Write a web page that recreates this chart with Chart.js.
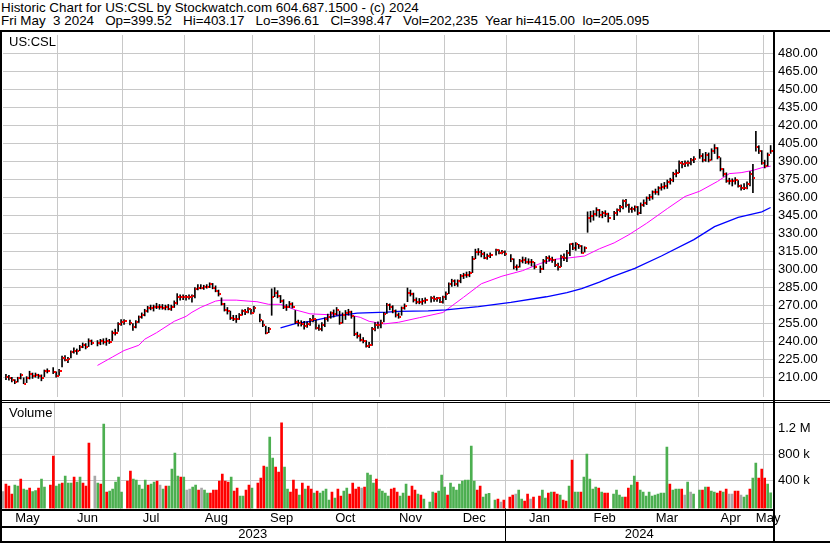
<!DOCTYPE html>
<html>
<head>
<meta charset="utf-8">
<script src="https://cdn.jsdelivr.net/npm/chart.js@4.4.1/dist/chart.umd.min.js"></script>
<style>
  html, body { margin: 0; padding: 0; background: #fff; }
  #wrap { position: relative; width: 830px; height: 543px; overflow: hidden; font-family: Arial, "Liberation Sans", sans-serif; color: #000; }
  .hdr { position: absolute; left: 1px; font-size: 13.4px; line-height: 13px; white-space: pre; }
  #h1 { top: 1px; }
  #h2 { top: 14px; }
  .tag { position: absolute; left: 9px; font-size: 13px; line-height: 13px; }
  .ln { position: absolute; background: #000; }
  canvas { position: absolute; left: 0; }
</style>
</head>
<body>
<div id="wrap">
  <div class="hdr" id="h1">Historic Chart for US:CSL by Stockwatch.com 604.687.1500 - (c) 2024</div>
  <div class="hdr" id="h2">Fri May  3 2024   Op=399.52   Hi=403.17   Lo=396.61   Cl=398.47   Vol=202,235  Year hi=415.00  lo=205.095</div>
  <canvas id="price" width="830" height="368" style="top:32px"></canvas>
  <canvas id="vol" width="830" height="140" style="top:403px"></canvas>
  <div class="tag" style="top:35px">US:CSL</div>
  <div class="tag" style="top:406px">Volume</div>
  <div class="ln" style="left:0;top:30px;width:830px;height:2px"></div>
  <div class="ln" style="left:0;top:30px;width:2px;height:513px"></div>
  <div class="ln" style="left:773px;top:30px;width:2px;height:513px"></div>
  <div class="ln" style="left:0;top:400px;width:830px;height:1px"></div>
  <div class="ln" style="left:0;top:402px;width:830px;height:1px"></div>
  <div class="ln" style="left:0;top:509px;width:775px;height:2px"></div>
  <div class="ln" style="left:0;top:526px;width:775px;height:2px"></div>
  <div class="ln" style="left:0;top:541px;width:830px;height:2px"></div>
</div>
<script>
// one slot per weekday, holidays are null
const firstDay = '2023-05-08';
const lastDay = '2024-05-03';

const monthLabels = ['May', 'Jun', 'Jul', 'Aug', 'Sep', 'Oct', 'Nov', 'Dec', 'Jan', 'Feb', 'Mar', 'Apr', 'May'];
const yearLabels = ['2023', '2024'];
const priceTicks = [210, 225, 240, 255, 270, 285, 300, 315, 330, 345, 360, 375, 390, 405, 420, 435, 450, 465, 480];
const volumeTicks = [400000, 800000, 1200000];

const closes = [
  210.8, 210.0, 207.8, 206.7, 209.5, 212.7, 205.1, 209.5, 213.5, 211.6,
  212.7, 211.1, 210.0, 215.4, 216.0, null, 214.9, 211.6, 216.0, 226.3,
  225.2, 225.8, 231.2, 232.6, 232.3, 235.5, 237.2, 235.3, 240.4, 238.8,
  null, 238.8, 240.7, 240.2, 241.0, 240.2, 247.5, 247.5, 255.1, 256.2,
  257.6, null, 255.7, 252.1, 256.7, 260.5, 262.4, 265.2, 268.4, 268.2,
  268.7, 269.2, 269.0, 268.4, 269.2, 267.6, 269.2, 272.5, 276.8, 276.8,
  276.8, 276.8, 277.4, 277.9, 283.6, 285.0, 285.0, 285.5, 285.5, 287.7,
  285.0, 282.3, 279.6, 271.4, 266.5, 265.7, 259.7, 259.2, 259.2, 262.4,
  265.7, 264.6, 267.3, 263.8, 267.9, null, 257.8, 253.8, 247.5, 251.0,
  277.5, 280.7, 277.7, 273.9, 269.0, 269.2, 271.1, 268.7, 256.2, 255.7,
  254.6, 252.9, 255.1, 258.4, 259.2, 251.6, 251.0, 254.3, 258.9, 260.3,
  263.8, 263.3, 266.5, 255.7, 262.4, 264.3, 264.6, 261.1, 246.1, 244.8,
  241.5, 240.7, 236.4, 237.2, 250.2, 253.8, 253.8, 255.7, 263.0, 270.9,
  269.2, 265.2, 262.4, 260.5, 268.4, 269.8, 280.9, 280.1, 274.7, 273.3,
  273.3, 273.9, 274.7, null, 276.0, 275.2, 276.0, 273.3, 276.8, 280.1,
  287.7, 290.4, 287.7, 290.2, 294.5, 295.1, 295.6, 297.2, 309.2, 314.9,
  314.9, 313.3, 310.0, 311.4, 312.2, null, 316.0, 314.1, 314.6, 312.7,
  null, 309.2, 301.8, 301.8, 307.3, 308.1, 306.7, 306.5, 305.9, 301.8,
  null, 300.5, 307.3, 310.0, 309.2, 307.8, 303.8, 302.4, 310.5, 310.0,
  313.5, 320.9, 318.2, 320.9, 319.5, 314.1, 318.2, 342.6, 344.5, 346.1,
  349.9, 345.3, 346.7, 345.9, 342.6, null, 347.2, 349.4, 352.1, 357.0,
  353.5, 350.2, 350.2, 352.1, 347.2, 354.0, 355.7, 359.7, 360.3, 364.3,
  364.3, 367.6, 369.0, 369.8, 373.0, 374.4, 379.8, 380.7, 388.8, 387.4,
  388.3, 388.8, 391.5, 392.1, null, 394.8, 391.5, 395.6, 391.5, 398.9,
  401.0, 393.7, 383.4, 379.3, 373.9, 373.3, 373.3, 374.7, 369.8, 367.6,
  367.6, 371.1, 379.3, 376.0, 401.6, 398.3, 388.8, 386.5, 395.6, 398.47
];
const highs = [
  213.0, 212.0, 210.5, 208.5, 210.5, 213.5, 210.0, 211.0, 215.5, 214.0,
  214.0, 213.0, 212.5, 216.5, 217.5, null, 218.5, 215.0, 217.0, 228.0,
  228.5, 227.0, 232.5, 235.0, 234.0, 237.0, 239.0, 238.5, 242.5, 241.5,
  null, 241.0, 242.0, 242.5, 243.0, 242.0, 249.0, 250.5, 256.0, 258.5,
  258.5, null, 258.0, 255.0, 257.5, 261.5, 264.0, 267.0, 269.5, 270.5,
  270.5, 272.0, 271.0, 271.0, 270.5, 271.0, 270.5, 274.0, 280.0, 279.0,
  279.0, 278.5, 279.0, 279.0, 285.0, 287.5, 287.5, 287.0, 287.5, 289.0,
  288.5, 286.5, 283.0, 276.5, 272.0, 268.5, 265.5, 262.0, 262.0, 263.5,
  266.5, 267.0, 268.5, 267.0, 269.5, null, 263.0, 257.5, 253.0, 252.0,
  284.0, 285.0, 282.5, 278.5, 275.0, 271.0, 273.5, 272.5, 266.0, 258.0,
  257.5, 257.0, 256.5, 259.5, 262.0, 258.5, 254.0, 256.0, 260.0, 263.0,
  265.0, 266.5, 268.5, 265.5, 264.0, 266.0, 267.0, 265.5, 261.0, 248.0,
  246.5, 243.5, 241.0, 239.5, 252.0, 256.0, 256.5, 258.0, 264.5, 272.0,
  271.5, 270.0, 266.5, 264.0, 269.0, 271.5, 284.7, 283.0, 280.5, 276.5,
  276.0, 276.0, 276.5, null, 277.5, 278.0, 277.0, 277.0, 278.0, 281.5,
  289.0, 292.0, 291.5, 291.5, 296.0, 297.0, 298.0, 298.5, 311.0, 317.0,
  317.5, 316.0, 314.5, 313.0, 314.0, null, 317.0, 316.5, 316.0, 315.5,
  null, 312.5, 309.0, 304.0, 308.5, 310.5, 310.0, 309.0, 308.5, 306.0,
  null, 303.0, 308.5, 311.0, 311.5, 310.5, 308.5, 305.5, 312.0, 313.0,
  316.0, 321.5, 322.0, 322.5, 321.0, 320.0, 319.0, 348.0, 348.5, 349.0,
  351.5, 350.0, 348.5, 349.0, 347.0, null, 348.5, 350.5, 353.5, 358.0,
  358.5, 354.5, 352.0, 353.0, 352.5, 355.5, 358.0, 360.5, 362.5, 365.5,
  367.0, 369.0, 371.5, 372.5, 374.5, 376.0, 381.0, 383.0, 390.5, 390.0,
  390.5, 390.5, 392.5, 394.0, null, 400.0, 396.5, 397.5, 397.0, 400.5,
  404.0, 401.5, 393.0, 384.0, 380.5, 376.0, 375.5, 376.5, 374.0, 370.5,
  371.5, 373.0, 381.5, 387.5, 415.0, 403.0, 399.0, 391.0, 397.0, 403.17
];
const lows = [
  208.5, 208.0, 206.5, 205.1, 206.5, 209.0, 205.1, 206.0, 209.0, 209.5,
  210.5, 209.5, 207.5, 211.0, 214.0, null, 213.5, 210.5, 212.0, 219.0,
  224.0, 222.5, 226.5, 230.5, 229.5, 232.5, 235.0, 234.0, 236.0, 237.5,
  null, 236.5, 237.5, 238.0, 237.0, 238.5, 241.0, 245.5, 248.5, 253.5,
  254.5, null, 254.0, 249.5, 251.5, 256.0, 259.5, 261.5, 264.5, 266.5,
  265.5, 267.5, 267.0, 267.0, 266.5, 266.5, 266.0, 268.5, 271.0, 274.5,
  275.0, 274.5, 275.5, 273.0, 276.5, 283.0, 284.0, 283.5, 284.5, 285.0,
  284.0, 281.5, 278.0, 270.5, 265.5, 263.0, 258.5, 257.5, 256.0, 258.5,
  262.0, 262.5, 264.0, 263.0, 264.5, null, 256.5, 252.5, 246.5, 247.5,
  262.0, 277.5, 276.5, 272.5, 267.5, 266.0, 268.5, 268.0, 255.0, 253.0,
  253.0, 250.5, 252.0, 253.5, 256.5, 250.5, 249.5, 249.0, 252.5, 257.0,
  259.5, 260.5, 262.0, 254.5, 255.5, 258.5, 262.0, 259.5, 245.0, 243.0,
  240.5, 239.0, 235.5, 235.0, 237.0, 249.0, 251.0, 251.5, 256.5, 263.5,
  266.5, 264.0, 260.5, 259.5, 262.0, 267.0, 273.3, 278.0, 273.0, 271.5,
  271.5, 271.0, 272.0, null, 273.0, 273.5, 273.5, 272.5, 272.0, 275.0,
  280.0, 286.0, 286.5, 286.0, 289.0, 292.5, 293.5, 294.0, 297.5, 309.0,
  312.0, 310.5, 309.0, 308.5, 310.0, null, 312.0, 313.0, 313.0, 311.5,
  null, 306.5, 300.5, 299.5, 302.0, 305.5, 305.0, 304.5, 303.0, 300.5,
  null, 297.5, 300.0, 305.0, 307.0, 306.0, 302.5, 299.5, 302.5, 307.5,
  306.5, 311.5, 316.5, 316.0, 317.5, 313.5, 314.5, 331.0, 339.5, 341.0,
  344.5, 343.5, 343.0, 344.0, 339.5, null, 341.5, 345.0, 348.0, 350.5,
  352.0, 347.5, 347.5, 348.5, 345.5, 346.5, 352.5, 354.0, 357.5, 358.5,
  362.5, 362.0, 366.0, 367.0, 367.5, 371.0, 373.0, 377.0, 380.5, 384.5,
  385.5, 386.0, 387.0, 389.0, null, 392.5, 389.5, 390.0, 389.5, 391.0,
  396.5, 392.0, 382.0, 377.5, 372.5, 371.0, 369.5, 371.0, 368.5, 366.0,
  366.5, 367.0, 369.5, 364.0, 398.5, 396.5, 387.5, 384.5, 386.0, 396.61
];

// thousands of shares
const volumes = [
  220, 338, 308, 185, 323, 308, 415, 262, 246, 277,
  220, 236, 277, 415, 292, null, 323, 769, 308, 338,
  354, 461, 354, 354, 446, 369, 446, 354, 308, 969,
  null, 461, 354, 338, 1260, 215, 230, 262, 369, 446,
  215, null, 385, 538, 415, 400, 323, 262, 400, 323,
  338, 369, 385, 323, 262, 308, 308, 569, 815, 461,
  446, 446, 246, 262, 292, 323, 246, 277, 246, 200,
  200, 246, 246, 385, 492, 385, 369, 446, 230, 277,
  154, 154, 246, 323, 277, null, 354, 431, 615, 600,
  1060, 738, 600, 523, 1280, 600, 262, 215, 400, 262,
  169, 354, 262, 308, 262, 200, 230, 200, 230, 262,
  92, 215, 123, 262, 154, 230, 277, 185, 354, 262,
  292, 277, 292, 508, 477, 354, 415, 262, 230, 200,
  154, 262, 277, 215, 154, 200, 338, 154, 308, 246,
  185, 169, 108, null, 62, 215, 200, 230, 477, 292,
  169, 354, 292, 246, 338, 385, 400, 400, 923, 385,
  246, 308, 138, 185, 195, null, 92, 108, 62, 92,
  null, 138, 169, 185, 246, 108, 77, 185, 108, 138,
  null, 154, 246, 123, 200, 215, 215, 185, 169, 92,
  77, 308, 708, 215, 215, 215, 446, 800, 415, 262,
  292, 277, 215, 200, 200, null, 185, 246, 169, 138,
  138, 277, 323, 461, 369, 246, 215, 154, 215, 154,
  169, 185, 200, 200, 908, 338, 246, 262, 262, 262,
  169, 369, 215, 185, null, 246, 246, 292, 292, 230,
  215, 200, 230, 215, 262, 185, 185, 230, 230, 169,
  138, 169, 262, 431, 661, 431, 569, 431, 338, 202.235
];
// u = up day, d = down day, n = unchanged, - = holiday
const volumeMoves = [
  'nddduuduud', 'uuduu-dduu', 'duuuduuddd', '-nududuuuu', 'u-dduuuuud',
  'uudnuduuuu', 'dunnuudnuu', 'dddddddudd', 'uuddu-dddu', 'uuddduuddd',
  'ududduduuu', 'ududduuddd', 'dnduuuduuu', 'uddduuuddd', 'udu-uuduuu',
  'duuuuuuuuu', 'dduuu-udnd', '-ddnuuddnd', '-duududdud', 'duduuduuuu',
  'ududd-uuuu', 'dduuduuuuu', 'uuuuuduuud', 'nunu-ududu', 'uddudnnddn',
  'uuduuddduu'
].join('');

// moving average readings (slot, value)
const maFastAt = [31, 36, 40, 45, 47, 51, 57, 61, 63, 66, 71, 73, 78, 82, 85, 89, 93, 98, 103, 110, 116, 120, 123, 128, 133, 140, 148, 155, 161, 168, 175, 181, 186, 191, 196, 201, 206, 211, 217, 224, 230, 235, 241, 245, 249, 253, 256, 259];
const maFast = [220.3, 227.2, 232.7, 237.1, 242.1, 247.5, 257.0, 261.1, 264.5, 268.6, 273.8, 274.6, 274.6, 273.8, 273.3, 271.1, 271.1, 266.5, 263.2, 262.4, 262.4, 260.3, 257.0, 254.8, 256.2, 260.0, 264.3, 277.0, 288.2, 294.5, 299.1, 305.1, 308.6, 309.8, 311.3, 317.3, 322.2, 329.0, 338.5, 350.7, 360.8, 365.2, 373.3, 379.8, 380.6, 382.5, 384.7, 386.0];
const maSlowAt = [93, 98, 103, 108, 113, 119, 129, 133, 143, 149, 160, 171, 183, 190, 195, 201, 205, 213, 222, 233, 240, 248, 256, 259];
const maSlow = [251.6, 255.1, 257.0, 259.7, 261.9, 263.8, 264.6, 265.2, 265.7, 266.5, 269.2, 272.8, 277.4, 280.9, 284.2, 289.6, 293.7, 301.0, 311.3, 324.9, 335.7, 343.4, 348.0, 351.6];

// ---- calendar ----
const days = [];
for (let d = new Date(firstDay + 'T00:00:00Z'); d <= new Date(lastDay + 'T00:00:00Z'); d.setUTCDate(d.getUTCDate() + 1)) {
  const wd = d.getUTCDay();
  if (wd !== 0 && wd !== 6) days.push(new Date(d));
}
const xMin = -1, xMax = 259.8;
const monthStarts = [];
let yearStart = 0;
days.forEach((d, i) => {
  if (i > 0 && d.getUTCMonth() !== days[i - 1].getUTCMonth()) monthStarts.push(i - 0.5);
  if (i > 0 && d.getUTCFullYear() !== days[i - 1].getUTCFullYear()) yearStart = i - 0.5;
});
const monthEdges = [xMin, ...monthStarts, xMax];
const monthMids = monthLabels.map((_, i) => (monthEdges[i] + monthEdges[i + 1]) / 2);
const yearMids = [(xMin + yearStart) / 2, (yearStart + xMax) / 2];

const colors = { grid: '#c8c8c8', bar: '#000000', close: '#ff0000', fast: '#ff00ff', slow: '#0000ff', up: '#4caf50', down: '#ff0000', flat: '#a8a8a8' };

Chart.defaults.font.family = 'Arial, "Liberation Sans", sans-serif';
Chart.defaults.font.size = 13;
Chart.defaults.color = '#000';

const fitTo = (w, h) => scale => {
  if (w !== null) scale.width = w;
  if (h !== null) scale.height = h;
  scale.paddingTop = scale.paddingBottom = scale.paddingLeft = scale.paddingRight = 0;
};

// close mark sits just right of the high-low line
const closeMark = document.createElement('canvas');
closeMark.width = 5;
closeMark.height = 2;
const cm = closeMark.getContext('2d');
cm.fillStyle = colors.close;
cm.fillRect(3, 0, 2, 2);

const hlData = [], closeData = [];
closes.forEach((c, i) => {
  if (c === null) return;
  hlData.push({ x: i, y: [lows[i], highs[i]] });
  closeData.push({ x: i, y: c });
});

const timeAxis = extra => Object.assign({
  type: 'linear', min: xMin, max: xMax, offset: false,
  grid: { color: colors.grid, drawTicks: false, offset: false },
  border: { display: false },
  ticks: { display: false },
  afterBuildTicks: s => { s.ticks = monthStarts.map(v => ({ value: v })); },
  afterFit: fitTo(null, 0)
}, extra);

new Chart(document.getElementById('price'), {
  type: 'bar',
  data: {
    datasets: [
      { type: 'line', data: maFastAt.map((s, i) => ({ x: s, y: maFast[i] })), borderColor: colors.fast, borderWidth: 1, pointRadius: 0, tension: 0, order: 4 },
      { type: 'line', data: maSlowAt.map((s, i) => ({ x: s, y: maSlow[i] })), borderColor: colors.slow, borderWidth: 1.3, pointRadius: 0, tension: 0, order: 3 },
      { type: 'bar', data: hlData, backgroundColor: colors.bar, barThickness: 1, grouped: false, order: 2 },
      { type: 'line', data: closeData, showLine: false, pointStyle: closeMark, pointRadius: 2, pointHoverRadius: 2, order: 1 }
    ]
  },
  options: {
    responsive: false, animation: false, devicePixelRatio: 1,
    layout: { padding: 0 },
    events: [],
    plugins: { legend: { display: false }, tooltip: { enabled: false } },
    scales: {
      x: timeAxis({}),
      y: {
        position: 'right', min: 194.05, max: 495.07,
        grid: { color: colors.grid, drawTicks: false },
        border: { display: false },
        ticks: { padding: 5, callback: v => v.toFixed(2) },
        afterBuildTicks: s => { s.ticks = priceTicks.map(v => ({ value: v })); },
        afterFit: fitTo(57, null)
      }
    }
  }
});

const yearDivider = {
  id: 'yearDivider',
  afterDraw(chart) {
    const ctx = chart.ctx;
    const x = Math.round(chart.scales.x.getPixelForValue(yearStart));
    ctx.save();
    ctx.fillStyle = '#000';
    ctx.fillRect(x, chart.chartArea.bottom, 1, chart.height - chart.chartArea.bottom);
    ctx.restore();
  }
};

const moveColor = { u: colors.up, d: colors.down, n: colors.flat, '-': colors.flat };

new Chart(document.getElementById('vol'), {
  type: 'bar',
  data: {
    datasets: [{
      data: volumes.map((v, i) => (v === null ? null : { x: i, y: v * 1000 })).filter(p => p !== null),
      backgroundColor: volumes.map((v, i) => moveColor[volumeMoves[i]]).filter((c, i) => volumes[i] !== null),
      barThickness: 2,
      base: -38461
    }]
  },
  options: {
    responsive: false, animation: false, devicePixelRatio: 1,
    layout: { padding: 0 },
    events: [],
    plugins: { legend: { display: false }, tooltip: { enabled: false } },
    scales: {
      x: timeAxis({ weight: 0 }),
      months: timeAxis({
        position: 'bottom', axis: 'x', weight: 1,
        grid: { display: false, drawTicks: false, offset: false },
        ticks: { autoSkip: false, maxRotation: 0, padding: 2, callback: (v, i) => monthLabels[i] },
        afterBuildTicks: s => { s.ticks = monthMids.map(v => ({ value: v })); },
        afterFit: fitTo(null, 17.5)
      }),
      years: timeAxis({
        position: 'bottom', axis: 'x', weight: 2,
        grid: { display: false, drawTicks: false, offset: false },
        ticks: { autoSkip: false, maxRotation: 0, padding: 1, callback: (v, i) => yearLabels[i] },
        afterBuildTicks: s => { s.ticks = yearMids.map(v => ({ value: v })); },
        afterFit: fitTo(null, 17)
      }),
      y: {
        position: 'right', min: -38461, max: 1584615,
        grid: { color: colors.grid, drawTicks: false },
        border: { display: false },
        ticks: { padding: 5, callback: v => (v >= 1e6 ? (v / 1e6).toFixed(1) + ' M' : Math.round(v / 1e3) + ' k') },
        afterBuildTicks: s => { s.ticks = volumeTicks.map(v => ({ value: v })); },
        afterFit: fitTo(57, null)
      }
    }
  },
  plugins: [yearDivider]
});
</script>
</body>
</html>
